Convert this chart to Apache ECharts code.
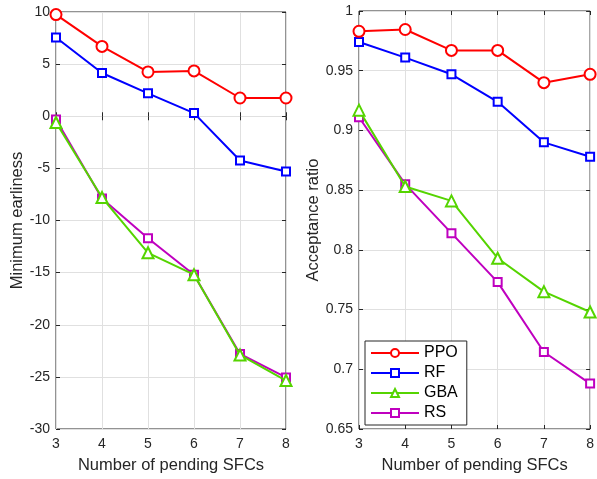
<!DOCTYPE html>
<html>
<head>
<meta charset="utf-8" />
<title></title>
<script type="text/javascript" src="https://cdn.jsdelivr.net/npm/echarts@6/dist/echarts.min.js"></script>
<style>
	html, body { margin: 0; padding: 0; background: #fff; }
</style>
</head>
<body>
	<div id="chartmain" style="width: 597px; height: 479px;"></div>
	<script type="text/javascript">
		// data
		var sfcs = [3, 4, 5, 6, 7, 8];
		var names = ['PPO', 'RF', 'GBA', 'RS'];
		var earlinessPPO = [9.75, 6.7, 4.25, 4.35, 1.75, 1.75];
		var earlinessRF = [7.55, 4.15, 2.2, 0.3, -4.25, -5.3];
		var earlinessGBA = [-0.6, -7.8, -13.1, -15.2, -22.9, -25.35];
		var earlinessRS = [-0.3, -7.9, -11.7, -15.2, -22.8, -25.05];
		var ratioPPO = [0.983, 0.9845, 0.967, 0.967, 0.940, 0.947];
		var ratioRF = [0.974, 0.961, 0.947, 0.924, 0.890, 0.878];
		var ratioGBA = [0.917, 0.853, 0.841, 0.793, 0.765, 0.748];
		var ratioRS = [0.911, 0.855, 0.814, 0.773, 0.7145, 0.688];

		var colors = ['#ff0000', '#0000ff', '#55d400', '#bf00bf'];
		var symbols = ['emptyCircle', 'emptyRect', 'emptyTriangle', 'emptyRect'];
		var symbolSizes = [11, 8, 11, 8];
		var font = 'Liberation Sans';
		var textColor = '#262626';

		function pairs(ys) {
			return sfcs.map(function (x, i) { return [x, ys[i]]; });
		}

		function xAxes(gridIndex) {
			var base = {
				type: 'value', gridIndex: gridIndex, min: 3, max: 8, interval: 1,
				axisLine: { show: false },
				axisTick: { show: true, inside: true, length: 4, lineStyle: { color: textColor } },
				splitLine: { show: true, lineStyle: { color: '#e0e0e0', width: 1 } }
			};
			var bottom = Object.assign({}, base, {
				position: 'bottom',
				name: 'Number of pending SFCs', nameLocation: 'middle', nameGap: 28,
				nameTextStyle: { fontFamily: font, fontSize: 16.5, color: textColor },
				axisLabel: { fontFamily: font, fontSize: 14, color: textColor, margin: 8 }
			});
			var top = Object.assign({}, base, {
				position: 'top', axisLabel: { show: false }, splitLine: { show: false }
			});
			return [bottom, top];
		}

		function yAxes(gridIndex, min, max, interval, name, decimals) {
			var base = {
				type: 'value', gridIndex: gridIndex, min: min, max: max, interval: interval,
				axisLine: { show: false },
				axisTick: { show: true, inside: true, length: 4, lineStyle: { color: textColor } },
				splitLine: { show: true, lineStyle: { color: '#e0e0e0', width: 1 } }
			};
			var left = Object.assign({}, base, {
				position: 'left',
				name: name, nameLocation: 'middle', nameGap: decimals ? 36 : 29,
				nameTextStyle: { fontFamily: font, fontSize: 16.5, color: textColor },
				axisLabel: {
					fontFamily: font, fontSize: 14, color: textColor, margin: 6,
					formatter: function (v) {
						if (!decimals) return String(v);
						return String(parseFloat(v.toFixed(2)));
					}
				}
			});
			var right = Object.assign({}, base, {
				position: 'right', axisLabel: { show: false }, splitLine: { show: false }
			});
			return [left, right];
		}

		function makeSeries(idx, ys, name) {
			return {
				name: name, type: 'line', data: pairs(ys),
				xAxisIndex: idx * 2, yAxisIndex: idx * 2,
				symbol: symbols[names.indexOf(name)],
				symbolSize: symbolSizes[names.indexOf(name)],
				color: colors[names.indexOf(name)],
				lineStyle: { width: 2 },
				itemStyle: { borderWidth: 2 },
				emphasis: { disabled: true },
				z: 10 - names.indexOf(name)
			};
		}

		var option = {
			animation: false,
			backgroundColor: '#ffffff',
			grid: [
				{ left: 56, right: 311, top: 12, bottom: 46, show: true, borderColor: textColor, borderWidth: 1, backgroundColor: 'transparent' },
				{ left: 359, right: 6, top: 11, bottom: 46, show: true, borderColor: textColor, borderWidth: 1, backgroundColor: 'transparent' }
			],
			xAxis: xAxes(0).concat(xAxes(1)),
			yAxis: yAxes(0, -30, 10, 5, 'Minimum earliness', false)
				.concat(yAxes(1, 0.65, 1, 0.05, 'Acceptance ratio', true)),
			legend: {
				data: names,
				orient: 'vertical',
				left: 365, top: 341,
				itemWidth: 48, itemHeight: 10, itemGap: 4,
				padding: [4, 9, 4, 5],
				backgroundColor: '#ffffff',
				borderColor: textColor, borderWidth: 1, borderRadius: 0,
				textStyle: { fontFamily: font, fontSize: 16, color: '#000', padding: [0, 0, 0, 0] }
			},
			series: [
				makeSeries(0, earlinessPPO, 'PPO'),
				makeSeries(0, earlinessRF, 'RF'),
				makeSeries(0, earlinessGBA, 'GBA'),
				makeSeries(0, earlinessRS, 'RS'),
				makeSeries(1, ratioPPO, 'PPO'),
				makeSeries(1, ratioRF, 'RF'),
				makeSeries(1, ratioGBA, 'GBA'),
				makeSeries(1, ratioRS, 'RS')
			]
		};

		var myChart = echarts.init(document.getElementById('chartmain'));
		myChart.setOption(option);
	</script>
</body>
</html>
